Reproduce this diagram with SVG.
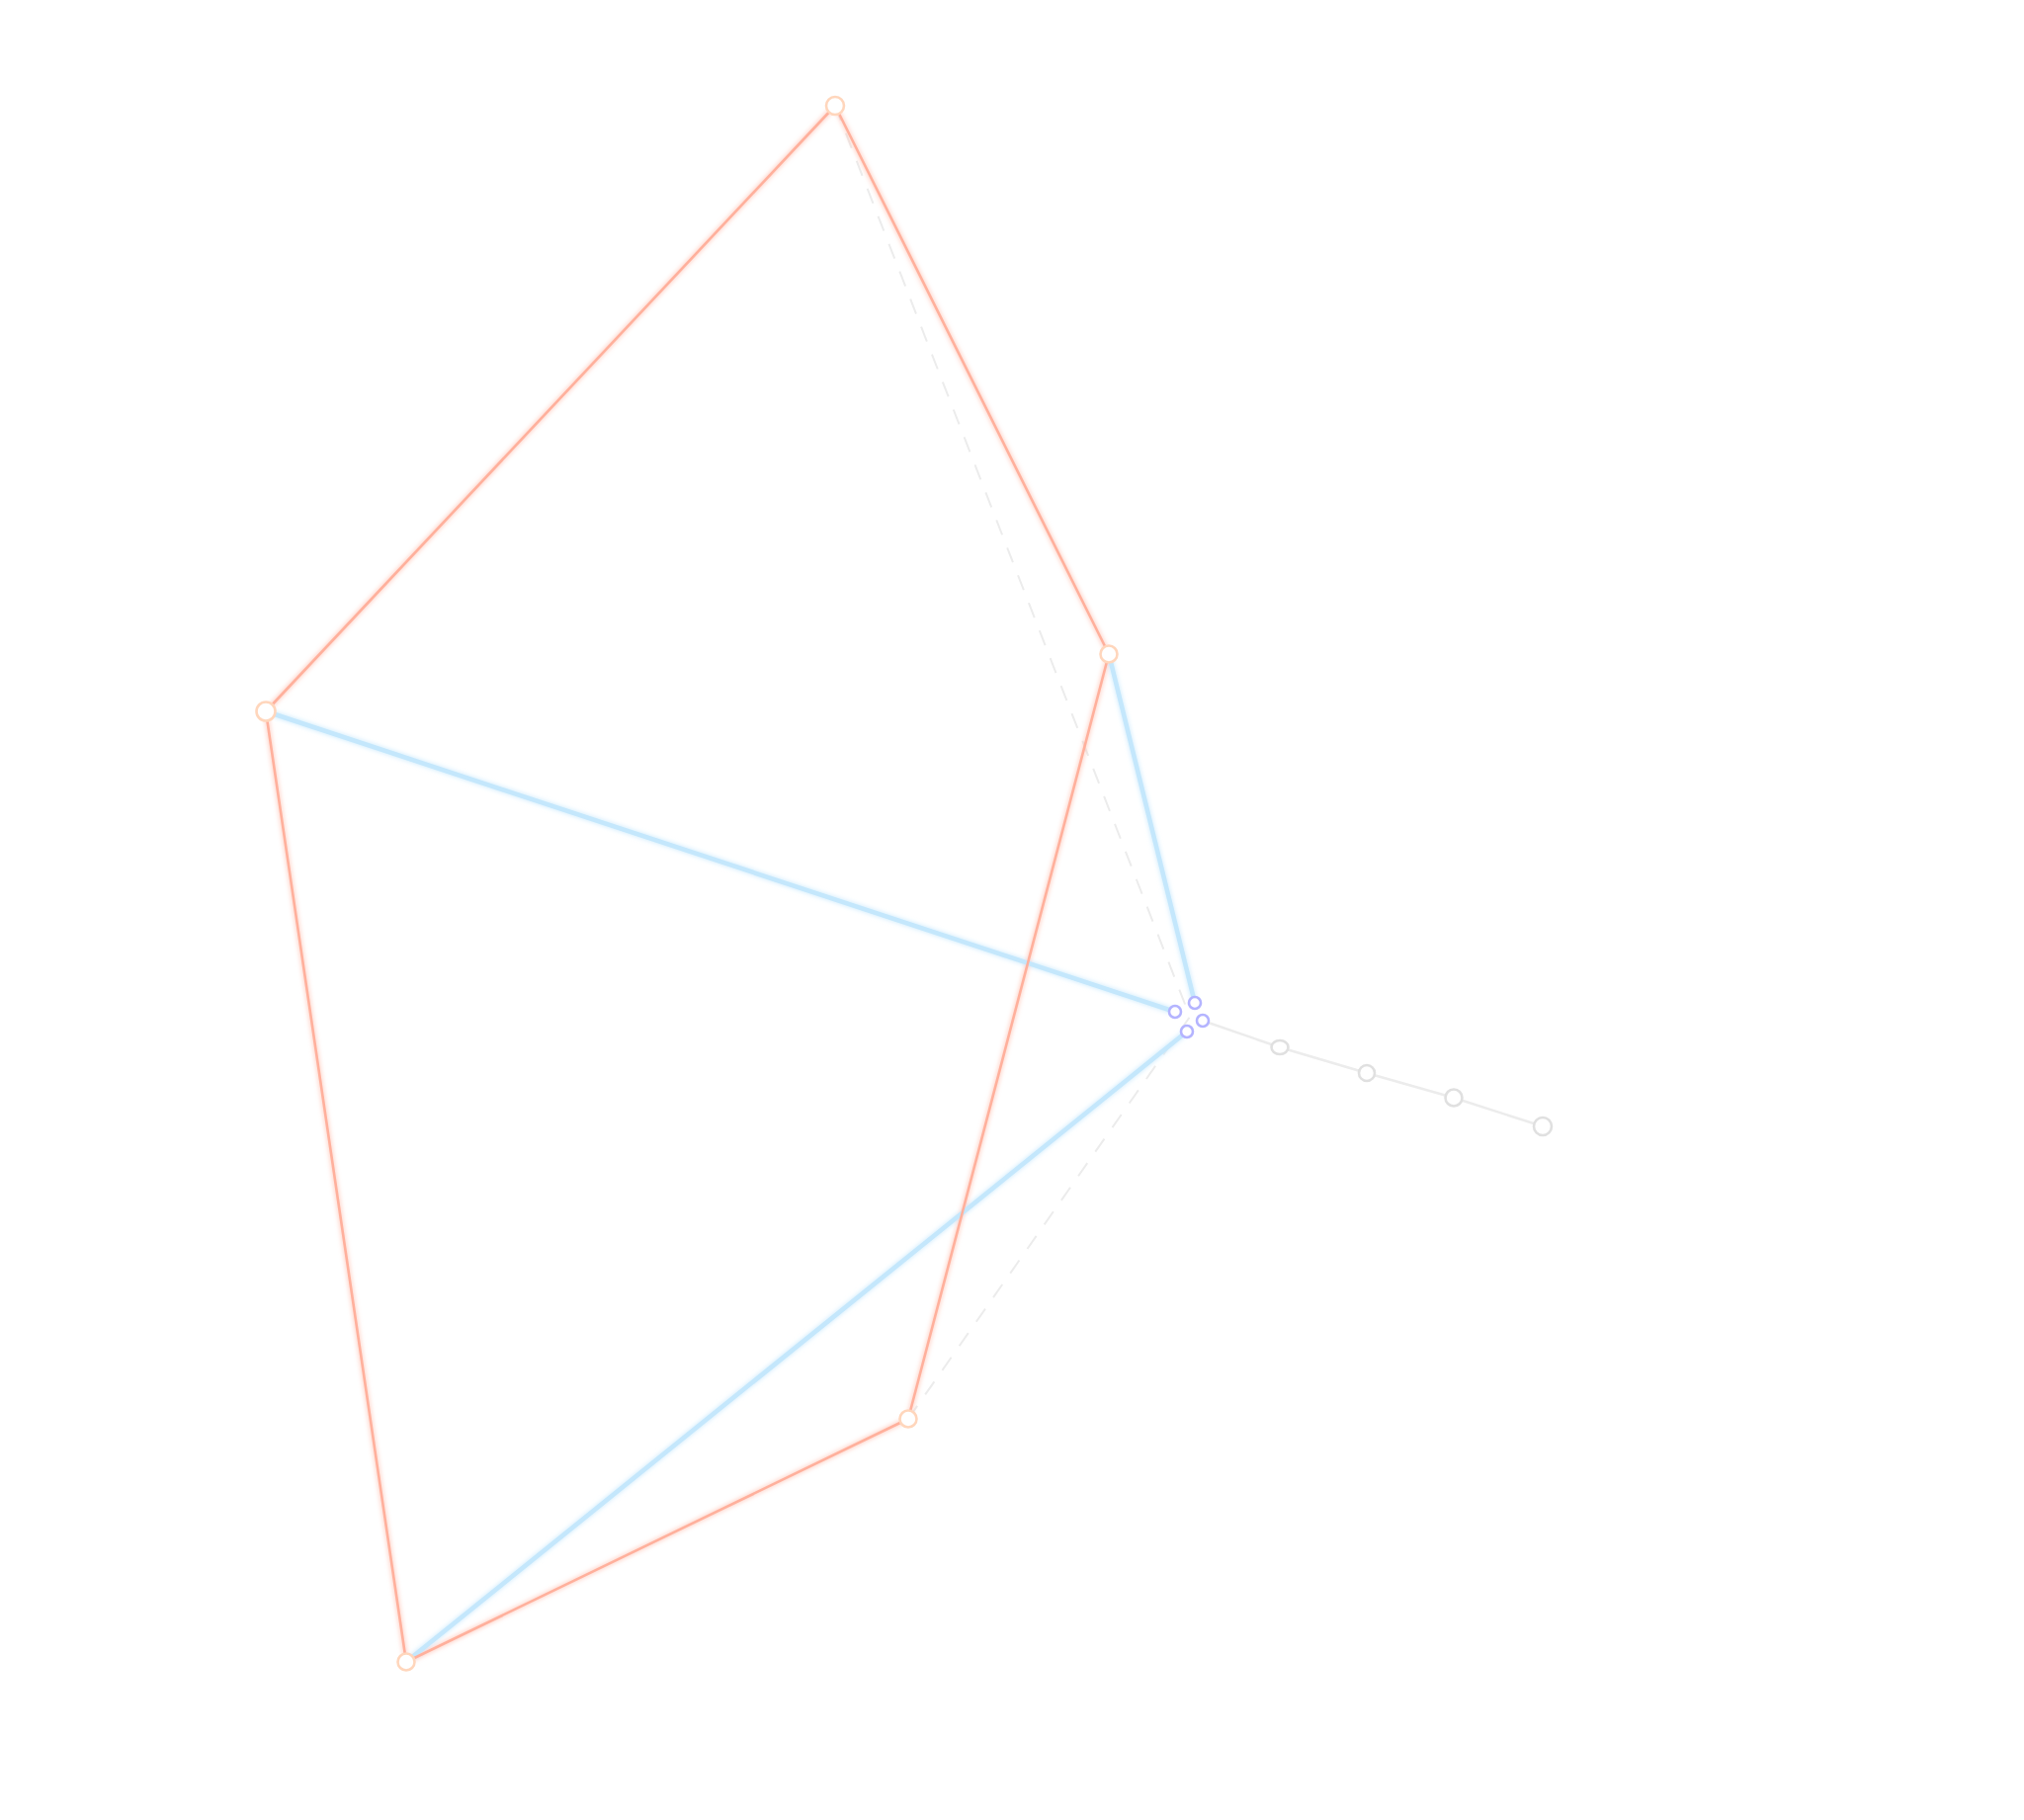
<svg xmlns="http://www.w3.org/2000/svg" width="2048" height="1842" viewBox="0 0 2048 1842">
<defs>
<filter id="glow" x="-20%" y="-20%" width="140%" height="140%">
<feGaussianBlur in="SourceGraphic" stdDeviation="2.5" result="b"/>
<feMerge><feMergeNode in="b"/><feMergeNode in="SourceGraphic"/></feMerge>
</filter>
</defs>
<style>
.e{fill:none;stroke:#ffb09c;stroke-width:2.6;stroke-linecap:round}
.b{fill:none;stroke:#c4e7fc;stroke-width:4.5;stroke-linecap:round}
.d{fill:none;stroke:#ececec;stroke-width:2;stroke-dasharray:16 14}
.g{fill:none;stroke:#ececec;stroke-width:2.5}
.n{fill:#fff;stroke:#ffd6bc;stroke-width:2.6}
.m{fill:#fff;stroke:#b4b4ff;stroke-width:2.6}
.k{fill:#fff;stroke:#e0e0e0;stroke-width:2.6}
</style>
<rect width="2048" height="1842" fill="#fff"/>
<g id="connectors">
<line class="d" x1="845" y1="107" x2="1204" y2="1029"/>
<line class="d" x1="919" y1="1436" x2="1204" y2="1029"/>
<polyline class="g" points="1217,1033 1295,1060 1383,1086 1471,1111 1561,1140"/>
<g filter="url(#glow)">
<line class="b" x1="269" y1="720" x2="1189" y2="1024"/>
<line class="b" x1="1122" y1="662" x2="1209" y2="1015"/>
<line class="b" x1="411" y1="1682" x2="1201" y2="1044"/>
<line class="e" x1="845" y1="107" x2="269" y2="720"/>
<line class="e" x1="845" y1="107" x2="1122" y2="662"/>
<line class="e" x1="269" y1="720" x2="411" y2="1682"/>
<line class="e" x1="411" y1="1682" x2="919" y2="1436"/>
<line class="e" x1="1122" y1="662" x2="919" y2="1436"/>
</g>
</g>
<g id="node-a"><circle class="n" cx="845" cy="107" r="9"/></g>
<g id="node-b"><circle class="n" cx="269" cy="720" r="9.5"/></g>
<g id="node-c"><circle class="n" cx="1122" cy="662" r="8.5"/></g>
<g id="node-d"><circle class="n" cx="411" cy="1682" r="8.5"/></g>
<g id="node-e"><circle class="n" cx="919" cy="1436" r="8.5"/></g>
<g id="node-p1"><circle class="m" cx="1189" cy="1024" r="6"/></g>
<g id="node-p2"><circle class="m" cx="1209" cy="1015" r="6"/></g>
<g id="node-p3"><circle class="m" cx="1217" cy="1033" r="6"/></g>
<g id="node-p4"><circle class="m" cx="1201" cy="1044" r="6"/></g>
<g id="node-g1"><ellipse class="k" cx="1295" cy="1060" rx="8.5" ry="7"/></g>
<g id="node-g2"><circle class="k" cx="1383" cy="1086" r="8"/></g>
<g id="node-g3"><circle class="k" cx="1471" cy="1111" r="8.5"/></g>
<g id="node-g4"><circle class="k" cx="1561" cy="1140" r="9"/></g>
</svg>
